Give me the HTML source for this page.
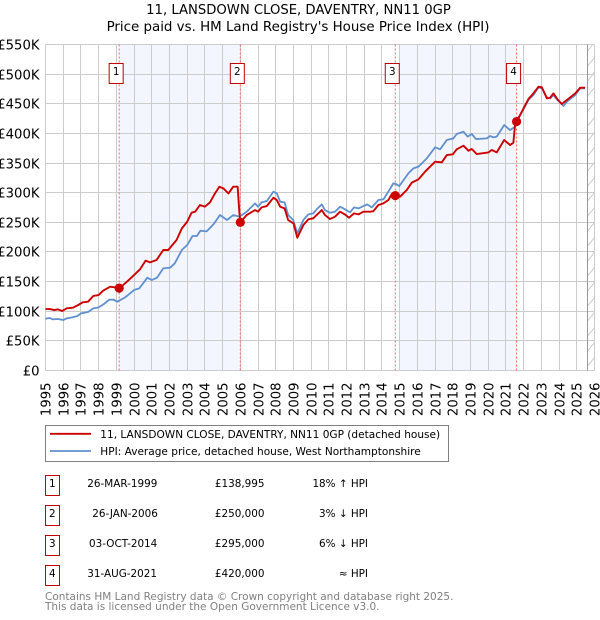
<!DOCTYPE html>
<html>
<head>
<meta charset="utf-8">
<title>11, LANSDOWN CLOSE, DAVENTRY, NN11 0GP</title>
<style>
html,body{margin:0;padding:0;background:#fff;width:600px;height:620px;overflow:hidden}
svg{display:block;font-family:"DejaVu Sans","Liberation Sans",sans-serif}
</style>
</head>
<body>
<svg id="chart" xmlns="http://www.w3.org/2000/svg" width="600" height="620" viewBox="0 0 600 620">
<defs>
<pattern id="hatch" patternUnits="userSpaceOnUse" width="9" height="15" x="585.5" y="341.5">
<line x1="0" y1="12" x2="9" y2="1" stroke="#ccc" stroke-width="1"/>
</pattern>
</defs>
<g text-anchor="middle" fill="#000">
<text x="298.5" y="14" font-size="13.2">11, LANSDOWN CLOSE, DAVENTRY, NN11 0GP</text>
<text x="298" y="31" font-size="13.4">Price paid vs. HM Land Registry's House Price Index (HPI)</text>
</g>
<g id="plot"></g>
<g>
<rect x="45.5" y="425.5" width="403" height="36" fill="#fff" stroke="#808080" stroke-width="1"/>
<line x1="50" x2="91" y1="433.8" y2="433.8" stroke="#cc0000" stroke-width="1.8"/>
<text x="100.3" y="438" font-size="10.55" fill="#000">11, LANSDOWN CLOSE, DAVENTRY, NN11 0GP (detached house)</text>
<line x1="50" x2="91" y1="451" y2="451" stroke="#6090d0" stroke-width="1.8"/>
<text x="100.3" y="455" font-size="10.55" fill="#000">HPI: Average price, detached house, West Northamptonshire</text>
</g>
<g font-size="10.4" fill="#000">
<g>
<rect x="45.5" y="475.5" width="14" height="20" fill="#fff" stroke="#c00000"/>
<text x="52.3" y="487" text-anchor="middle">1</text>
<text x="87.3" y="487">26-MAR-1999</text>
<text x="264.5" y="487" text-anchor="end">£138,995</text>
<text x="368" y="487" text-anchor="end">18% ↑ HPI</text>
</g>
<g>
<rect x="45.5" y="505.5" width="14" height="20" fill="#fff" stroke="#c00000"/>
<text x="52.3" y="517" text-anchor="middle">2</text>
<text x="92.3" y="517">26-JAN-2006</text>
<text x="264.5" y="517" text-anchor="end">£250,000</text>
<text x="368" y="517" text-anchor="end">3% ↓ HPI</text>
</g>
<g>
<rect x="45.5" y="535.5" width="14" height="20" fill="#fff" stroke="#c00000"/>
<text x="52.3" y="547" text-anchor="middle">3</text>
<text x="89" y="547">03-OCT-2014</text>
<text x="264.5" y="547" text-anchor="end">£295,000</text>
<text x="368" y="547" text-anchor="end">6% ↓ HPI</text>
</g>
<g>
<rect x="45.5" y="565.5" width="14" height="20" fill="#fff" stroke="#c00000"/>
<text x="52.3" y="577" text-anchor="middle">4</text>
<text x="87.3" y="577">31-AUG-2021</text>
<text x="264.5" y="577" text-anchor="end">£420,000</text>
<text x="368" y="577" text-anchor="end">≈ HPI</text>
</g>
</g>
<g font-size="10.5" fill="#808080">
<text x="45" y="600">Contains HM Land Registry data © Crown copyright and database right 2025.</text>
<text x="45" y="610">This data is licensed under the Open Government Licence v3.0.</text>
</g>
</svg>
<script>
const xTickYears = [1995,1996,1997,1998,1999,2000,2001,2002,2003,2004,2005,2006,2007,2008,2009,2010,2011,2012,2013,2014,2015,2016,2017,2018,2019,2020,2021,2022,2023,2024,2025,2026];
const yTickValues = [0,50,100,150,200,250,300,350,400,450,500,550];
const yTickLabels = ['£0','£50K','£100K','£150K','£200K','£250K','£300K','£350K','£400K','£450K','£500K','£550K'];
const priceYears = [1995,1995.25,1995.5,1995.7,1995.95,1996.2,1996.55,1996.85,1997.1,1997.4,1997.7,1998,1998.25,1998.65,1998.9,1999.16,1999.6,2000,2000.35,2000.65,2000.9,2001.27,2001.65,2001.93,2002.4,2002.7,2003,2003.25,2003.45,2003.72,2004,2004.29,2004.57,2004.82,2005.04,2005.33,2005.6,2005.85,2005.95,2006,2006.36,2006.83,2007,2007.2,2007.5,2007.87,2008.06,2008.25,2008.5,2008.7,2009,2009.22,2009.56,2009.84,2010.12,2010.31,2010.6,2010.78,2011.06,2011.35,2011.63,2011.9,2012.14,2012.42,2012.67,2012.95,2013.33,2013.5,2013.8,2014.08,2014.36,2014.55,2014.78,2015.02,2015.4,2015.68,2016.06,2016.43,2017,2017.38,2017.66,2018,2018.22,2018.6,2018.88,2019.07,2019.35,2020.01,2020.2,2020.48,2020.9,2021.23,2021.42,2021.52,2021.6,2022.27,2022.55,2022.84,2023.03,2023.31,2023.5,2023.68,2023.91,2024.15,2024.44,2024.91,2025.19,2025.47];
const priceValues = [103.7,103.7,102,103.2,100.4,104.9,106,110.5,115,116.1,125.7,127.3,134.7,141.4,140.3,138.6,149.8,161.1,171.2,185.3,182.4,186.4,203.3,203.3,220.1,239.8,251,266.2,267.9,279.2,276.4,283.7,298.8,310.1,307.3,298.8,310.1,310.1,265,250,262.3,270.7,267.9,275.2,277.5,291.5,287.6,276.3,273.5,253.9,248.2,224,245.4,255,256.7,262.3,270.7,262.3,255.5,259.5,267.9,263.4,257.8,265.1,263.4,267.9,267.9,268.5,279.2,282,287.6,297.7,296,293.2,304.5,316.9,322.5,335.4,352.3,351.2,363.5,364.7,373.1,379.3,370.8,373.7,365.2,368,372,368,388.8,380.4,384.3,417,420,458,467.6,478.8,477.7,459.1,460.2,467.6,457.4,449.6,456.3,467.6,477.1,477.1];
const hpiYears = [1995,1995.25,1995.4,1995.7,1996,1996.2,1996.5,1996.8,1997,1997.4,1997.7,1998,1998.3,1998.6,1998.85,1999.05,1999.5,2000,2000.3,2000.75,2001,2001.3,2001.65,2002.05,2002.3,2002.7,2003,2003.3,2003.55,2003.75,2004.1,2004.5,2004.85,2005.25,2005.6,2005.95,2006.36,2006.83,2007,2007.2,2007.5,2007.87,2008.06,2008.25,2008.5,2008.7,2008.99,2009.22,2009.56,2009.84,2010.12,2010.31,2010.6,2010.78,2011.06,2011.35,2011.63,2011.82,2012.2,2012.42,2012.67,2012.95,2013.17,2013.42,2013.8,2014.08,2014.36,2014.64,2014.79,2014.98,2015.49,2015.77,2016.06,2016.53,2017,2017.28,2017.66,2018.03,2018.22,2018.6,2018.84,2019.07,2019.31,2019.92,2020.1,2020.29,2020.48,2020.9,2021.23,2021.52,2021.71,2022.27,2022.55,2022.84,2023.03,2023.31,2023.5,2023.68,2023.91,2024.25,2024.44,2024.91,2025.19,2025.47];
const hpiValues = [87.4,88.5,86.3,86.9,85.2,88,89.7,91.9,96.4,98.7,104.8,106.5,112.2,119.5,119.5,116.1,123.4,135.8,138.6,156.6,152.6,156.6,172.3,173.5,180.8,203.3,211.7,226.9,226.9,235.9,234.7,247.1,262.3,253.9,262.3,259.5,267.9,282,276.3,283.7,285.9,301.7,298.8,284.8,283.7,262.3,253.9,231.4,253.9,263.4,265.1,271.8,280.3,270.7,266.2,267.9,276.3,273.5,266.8,275.2,273.5,277.5,280.3,275.2,287.6,288.7,301.7,315.7,314.6,311.2,332.6,341,343.9,357.9,376.5,373.1,388.8,391.6,399,402.9,394.5,399,390.5,391.6,395.6,393.3,394.5,414.1,405.7,411.3,425.4,456.3,464.8,477.7,476,460.8,459.1,464.8,456.3,446.2,453.5,464.8,476,476];
const saleYears = [1999.16,2006,2014.75,2021.6];
const salePrices = [138.995,250,295,420];
const saleLabels = ['1','2','3','4'];
const shadedBandStarts = [1999.16,2015];
const shadedBandEnds = [2006,2021.6];
const forecastStartYear = 2025.58;

const NS = 'http://www.w3.org/2000/svg';
const plot = document.getElementById('plot');
const left = 45.5, right = 594.5, top_ = 44.5, bottom = 370.5;
function xScale(year) { return left + (year - 1995) * (right - left) / 31; }
function yScale(value) { return bottom - value * (bottom - top_) / 550; }
function snap(v) { return Math.floor(v) + 0.5; }
function make(tag, attrs, parent) {
  const n = document.createElementNS(NS, tag);
  for (const k in attrs) n.setAttribute(k, attrs[k]);
  (parent || plot).appendChild(n);
  return n;
}
function pathFrom(xs, ys) {
  return xs.map(function (yr, i) { return (i ? 'L' : 'M') + xScale(yr).toFixed(2) + ' ' + yScale(ys[i]).toFixed(2); }).join('');
}
let el;

shadedBandStarts.forEach(function (s, i) {
  el = make('rect', {x: xScale(s), y: top_, width: xScale(shadedBandEnds[i]) - xScale(s), height: bottom - top_, fill: '#f3f6fe'});
  
  
});

yTickValues.forEach(function (v, i) {
  const y = snap(yScale(v));
  el = make('line', {x1: left, x2: right, y1: y, y2: y, stroke: '#cccccc', 'stroke-width': 1});
  
  
  el = make('text', {x: 39.5, y: y + 5, 'text-anchor': 'end', 'font-size': 13.2, fill: '#000'});
  
  
  el.textContent = yTickLabels[i];
});

xTickYears.forEach(function (yr) {
  const x = snap(xScale(yr));
  el = make('line', {x1: x, x2: x, y1: top_, y2: bottom, stroke: '#cccccc', 'stroke-width': 1});
  
  
  el = make('text', {transform: 'translate(' + (x + 5) + ',382.5) rotate(-90)', 'text-anchor': 'end', 'font-size': 13.2, fill: '#000'});
  
  
  el.textContent = String(yr);
});

el = make('rect', {x: xScale(forecastStartYear), y: top_, width: right - xScale(forecastStartYear), height: bottom - top_, fill: 'url(#hatch)'});


el = make('line', {x1: snap(xScale(forecastStartYear)), x2: snap(xScale(forecastStartYear)), y1: top_, y2: bottom, stroke: '#999999', 'stroke-width': 1});



saleYears.forEach(function (yr) {
  const x = xScale(yr);
  el = make('line', {x1: x, x2: x, y1: top_, y2: bottom, stroke: '#ff6666', 'stroke-width': 1, 'stroke-dasharray': '2,2'});
  
  
});

el = make('path', {d: pathFrom(hpiYears, hpiValues), fill: 'none', stroke: '#6090d0', 'stroke-width': 1.8, 'stroke-linejoin': 'round'});


el = make('path', {d: pathFrom(priceYears, priceValues), fill: 'none', stroke: '#cc0000', 'stroke-width': 1.9, 'stroke-linejoin': 'round'});



saleYears.forEach(function (yr, i) {
  const x = xScale(yr);
  el = make('circle', {cx: x, cy: yScale(salePrices[i]), r: 4.6, fill: '#cc0000'});
  
  
  el = make('rect', {x: x - 10, y: 63.5, width: 14, height: 20, fill: '#fff', stroke: '#c00000', 'stroke-width': 1});
  
  
  el = make('text', {x: x - 3, y: 75, 'text-anchor': 'middle', 'font-size': 10.4, fill: '#000'});
  
  
  el.textContent = saleLabels[i];
});
</script>
</body>
</html>
